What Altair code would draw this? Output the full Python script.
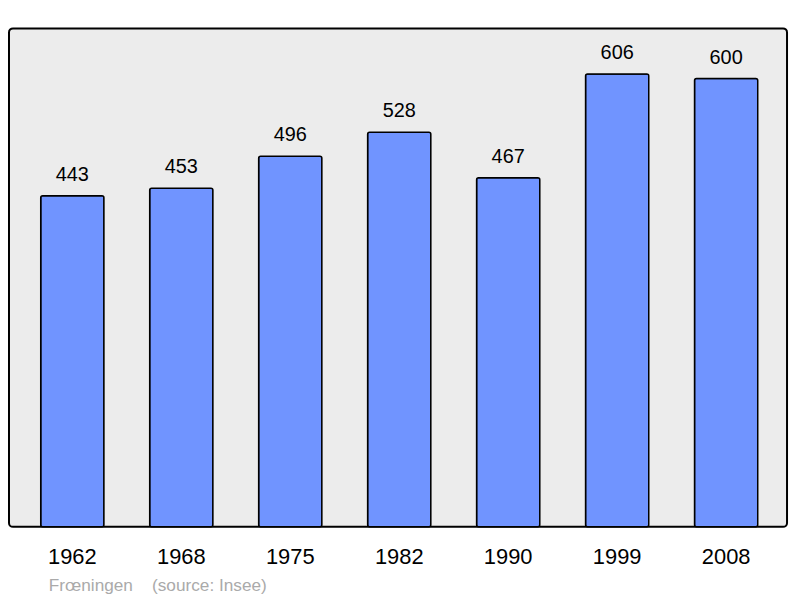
import altair as alt
import pandas as pd

years = ["1962", "1968", "1975", "1982", "1990", "1999", "2008"]
population = [443, 453, 496, 528, 467, 606, 600]

df = pd.DataFrame({"year": years, "pop": population})

FONT = "Liberation Sans"

x = alt.X("year:N", sort=years, title=None,
          scale=alt.Scale(paddingInner=0.42, paddingOuter=0.28, align=0.52),
          axis=alt.Axis(domain=False, ticks=False, tickSize=0, labelAngle=0,
                        labelFontSize=22, labelFont=FONT, labelColor="#000000",
                        labelBaseline="alphabetic", labelPadding=37))
y = alt.Y("pop:Q", title=None, scale=alt.Scale(domain=[0, 667], nice=False, zero=True),
          axis=None)

bars = alt.Chart(df).mark_bar(fill="#7094ff", stroke="#000000", strokeWidth=1.5,
                              cornerRadius=2).encode(x=x, y=y)
labels = alt.Chart(df).mark_text(baseline="alphabetic", dy=-15, fontSize=20, font=FONT,
                                 color="#000000").encode(x=x, y=y, text="pop:Q")

chart = alt.layer(bars, labels).properties(
    width=782, height=501,
    autosize=alt.AutoSizeParams(type="none"),
    padding={"left": 1, "top": 19, "right": 5, "bottom": 70},
    title=alt.TitleParams(text="Frœningen\u00a0\u00a0\u00a0\u00a0(source: Insee)",
                          orient="bottom", anchor="start", dx=40, offset=9,
                          fontSize=17.3, font=FONT, color="#aaaaaa", fontWeight="normal"),
).configure_view(fill="#ececec", stroke="#000000", strokeWidth=2, cornerRadius=4)

chart.save("out.html", embed_options={"renderer": "svg", "actions": False})
